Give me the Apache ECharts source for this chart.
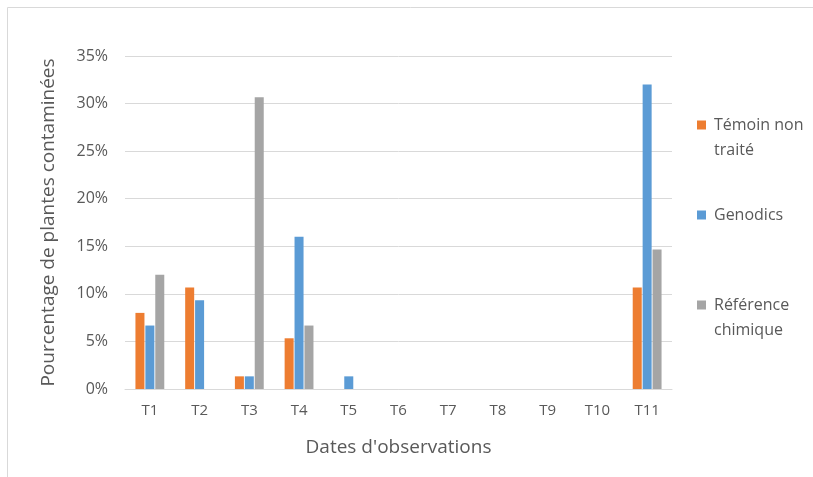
<!DOCTYPE html>
<html>
<head>
<meta charset="utf-8">
<script src="https://cdn.jsdelivr.net/npm/echarts@6/dist/echarts.min.js"></script>
<style>html,body{margin:0;padding:0;background:#fff}#c{width:813px;height:477px}</style>
</head>
<body>
<div id="c"></div>
<script>
const categories = ['T1','T2','T3','T4','T5','T6','T7','T8','T9','T10','T11'];
const temoin = [8.0, 10.67, 1.33, 5.33, 0, 0, 0, 0, 0, 0, 10.67];
const genodics = [6.67, 9.33, 1.33, 16.0, 1.33, 0, 0, 0, 0, 0, 32.0];
const reference = [12.0, 0, 30.67, 6.67, 0, 0, 0, 0, 0, 0, 14.67];
const yTicks = [0, 5, 10, 15, 20, 25, 30, 35];

const font = "'Open Sans', 'Liberation Sans', sans-serif";
const txt = '#595959';
const chart = echarts.init(document.getElementById('c'));
function mkLegend(name, top, fmt) {
  return {
    data: [name], left: 697, top: top, orient: 'vertical', icon: 'rect',
    itemWidth: 9, itemHeight: 9, itemGap: 0, selectedMode: false, padding: 0,
    textStyle: {color: txt, fontSize: 16, fontFamily: font, lineHeight: 25, padding: [0, 0, 0, 3]},
    formatter: fmt
  };
}
chart.setOption({
  animation: false,
  graphic: [{type: 'rect', shape: {x: 7.5, y: 7.5, width: 820, height: 480},
    style: {fill: 'none', stroke: '#d9d9d9', lineWidth: 1}, silent: true}],
  legend: [
    mkLegend('Témoin non traité', 125 - 37.5, ' \nTémoin non\ntraité'),
    mkLegend('Genodics', 215 - 12.5, 'Genodics'),
    mkLegend('Référence chimique', 305 - 37.5, ' \nRéférence\nchimique')
  ],
  grid: {left: 125, right: 141, top: 56, bottom: 88, containLabel: false},
  xAxis: {
    type: 'category', data: categories,
    axisLine: {lineStyle: {color: '#d9d9d9'}},
    axisTick: {show: false},
    axisLabel: {color: txt, fontSize: 15, fontFamily: font, margin: 14},
    name: "Dates d'observations", nameLocation: 'middle', nameGap: 49,
    nameTextStyle: {color: txt, fontSize: 19, fontFamily: font}
  },
  yAxis: {
    type: 'value', min: 0, max: 35, interval: 5,
    axisLine: {show: false}, axisTick: {show: false},
    splitLine: {lineStyle: {color: '#d9d9d9'}},
    axisLabel: {color: txt, fontSize: 16, fontFamily: font, margin: 17,
      formatter: v => yTicks.includes(v) ? v + '%' : ''},
    name: 'Pourcentage de plantes contaminées', nameLocation: 'middle', nameGap: 67,
    nameTextStyle: {color: txt, fontSize: 19, fontFamily: font}
  },
  series: [
    {name: 'Témoin non traité', type: 'bar', data: temoin, itemStyle: {color: '#ED7D31'},
      barGap: '10%', barCategoryGap: '42%'},
    {name: 'Genodics', type: 'bar', data: genodics, itemStyle: {color: '#5B9BD5'}},
    {name: 'Référence chimique', type: 'bar', data: reference, itemStyle: {color: '#A5A5A5'}}
  ]
});
</script>
</body>
</html>
